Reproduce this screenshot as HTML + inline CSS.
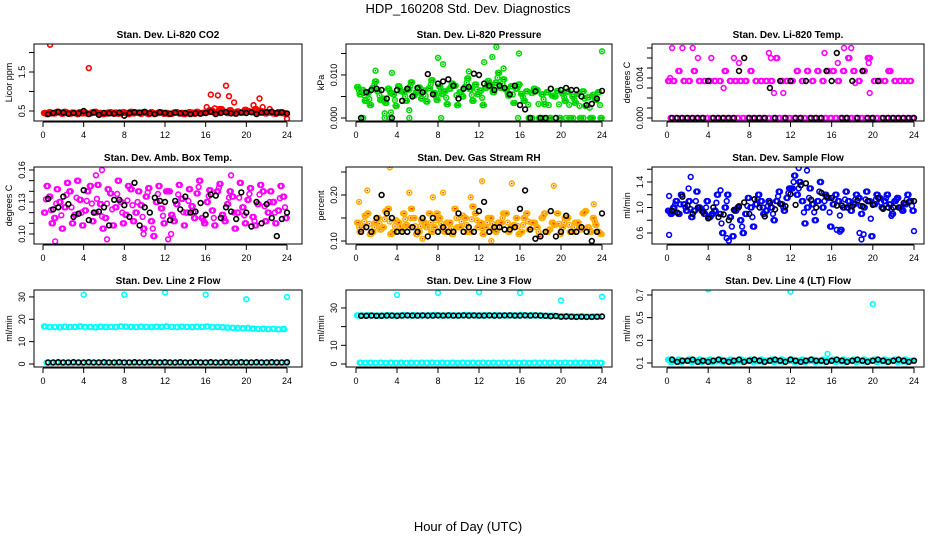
<!DOCTYPE html>
<html><head><meta charset="utf-8"><style>
html,body{margin:0;padding:0;background:#fff;}
svg{display:block;font-family:"Liberation Sans",sans-serif;}
</style></head><body>
<svg id="chart" width="936" height="540" viewBox="0 0 936 540" xmlns="http://www.w3.org/2000/svg">
<text x="468" y="13" text-anchor="middle" font-size="13">HDP_160208  Std. Dev. Diagnostics</text>
<text x="468" y="531" text-anchor="middle" font-size="13">Hour of Day (UTC)</text>
</svg>
<script>
// x tick labels
const xTicks = [0,4,8,12,16,20,24];

// Panel 1: CO2 (ppm)
const co2RedA = [0.45,0.47,0.44,0.46,0.48,0.43,0.45,0.47,0.46,0.44,0.48,0.45,0.43,0.47,0.46,0.44,0.45,0.48,0.46,0.43,0.45,0.47,0.44,0.46,0.45,0.43,0.47,0.45,0.44,0.46,0.48,0.45,0.47,0.50,0.46,0.48,0.45,0.47,0.49,0.46,0.50,0.47,0.45,0.48,0.46,0.44,0.47,0.45];
const co2RedB = [0.42,0.44,0.48,0.43,0.45,0.46,0.42,0.44,0.43,0.47,0.44,0.42,0.46,0.44,0.43,0.47,0.42,0.44,0.45,0.47,0.42,0.44,0.46,0.43,0.42,0.46,0.44,0.42,0.47,0.43,0.44,0.46,0.52,0.45,0.55,0.48,0.52,0.44,0.46,0.53,0.48,0.55,0.50,0.44,0.47,0.43,0.45,0.42];
const co2OutX = [0.7,4.5,16.1,16.5,16.9,17.2,17.6,18,18.3,18.8,20.7,21.3,21.6,22.3,24];
const co2OutY = [2.2,1.6,0.6,0.92,0.57,0.9,0.55,1.15,0.88,0.72,0.65,0.82,0.6,0.55,0.3];
const co2Black = [0.42,0.45,0.48,0.46,0.43,0.45,0.44,0.5,0.42,0.46,0.4,0.45,0.44,0.43,0.46,0.38,0.45,0.47,0.46,0.48,0.44,0.42,0.47,0.45,0.43,0.46,0.44,0.45,0.42,0.44,0.43,0.45,0.48,0.42,0.45,0.47,0.44,0.43,0.46,0.45,0.47,0.42,0.46,0.47,0.48,0.45,0.47,0.44];
const co2Ticks = [0.5,1.0,1.5,2.0];
const co2Labels = ["0.5","","1.5",""];

// Panel 2: pressure (units of 0.001 kPa)
const presA = [7.2,6.5,5.8,7.0,6.2,4.5,6.8,5.5,7.4,6.0,6.6,5.2,7.1,6.4,6.9,5.8,7.3,6.2,6.8,7.5,6.0,7.2,6.7,7.8,6.4,7.0,7.6,8.2,7.0,6.6,7.4,6.8,5.6,6.2,5.8,6.5,5.5,6.0,5.2,6.3,5.7,6.1,5.0,5.6,6.2,4.8,5.4,6.0];
const presB = [5.5,4.0,3.0,8.5,4.2,3.5,5.8,2.8,6.2,4.0,8.3,6.0,4.5,3.8,8.8,4.2,5.6,3.2,8.0,3.0,5.0,9.2,4.0,5.5,3.0,8.6,6.0,10.5,9.0,5.2,3.5,7.8,4.0,0,6.8,0,3.2,0,5.0,0,4.0,0,3.5,0,2.8,0,4.2,0];
const presOutX = [1.9,3.5,8,8.5,13.7,13.3,14.4,15.9,24,3.4,2.8,5.2,12.5,11,0.5,0.7,2.8,3.3,5.2,8.3,15.8,17.2,18.2,19,20.5,21.2,22.2,23.1];
const presOutY = [11,10.5,14,12.5,16.5,14.2,11.5,15,15.5,1.3,1.1,1.8,13,10.8,0,0,0,0,0,0,0,0,0,0,0,0,0,0];
const presBlack = [0,6,6.5,6.8,6.5,4.5,0,6.5,4,6.8,5,7,6,10.2,5.5,8,8.5,9,7.5,4.5,6.8,7.2,10.3,10,8,7.5,6.5,7.5,7,5.5,7.5,3,2,0,6.2,0,0,6.8,0,6.5,7,6.5,6.5,5,3,3.3,4.5,6.3];
const presTicks = [0,5,10,15];
const presLabels = ["0.000","","0.010",""];

// Panel 3: Li-820 temp (units of 0.001 C)
const tempA = [3.7,3.7,4.7,3.7,3.7,4.7,3.7,3.7,3.7,3.7,3.7,4.7,3.7,3.7,3.7,3.7,4.7,3.7,3.7,3.7,3.7,6,3.7,3.7,3.7,4.7,3.7,4.7,3.7,4.7,3.7,4.7,4.7,3.7,4.7,6,4.7,3.7,4.7,6,3.7,3.7,3.7,4.7,3.7,3.7,3.7,3.7];
const tempB = [0,0,0,0,0,0,0,0,0,0,0,0,0,0,0,0,0,0,0,0,0,0,0,0,0,0,0,0,0,0,0,0,0,0,0,0,0,0,0,0,0,0,0,0,0,0,0,0];
const tempOutX = [0.5,1.5,2.5,0.3,3.0,4.3,6.5,7,9.9,10.1,10.4,11.3,5.5,17.2,17.9,19.5,19.6,16.6,15.3,19.7,21.5,18.3];
const tempOutY = [7,7,7,4,6,6,6,5.5,6.5,6,2.5,2.5,3,7,7,6,5.5,5.5,6.5,2.5,4.7,3.5];
const tempBlack = [0,0,0,0,0,0,0,3.7,0,0,0,0,0,4.7,6,0,0,0,0,3,0,3.7,0,3.7,0,0,3.7,0,0,0,4.7,3.7,6.5,0,0,3.7,0,4.7,0,0,3.7,0,0,0,0,0,0,0];
const tempTicks = [0,1,2,3,4,5,6,7];
const tempLabels = ["0.000","","","","0.004","","",""];

// Panel 4: amb box temp
const boxA = [0.12,0.135,0.115,0.13,0.125,0.14,0.118,0.132,0.122,0.145,0.12,0.128,0.115,0.138,0.125,0.13,0.118,0.142,0.12,0.127,0.135,0.112,0.13,0.124,0.14,0.118,0.128,0.133,0.12,0.126,0.138,0.115,0.13,0.122,0.14,0.118,0.128,0.135,0.12,0.125,0.132,0.116,0.128,0.14,0.12,0.13,0.122,0.135];
const boxB = [0.145,0.11,0.142,0.105,0.148,0.11,0.15,0.108,0.14,0.112,0.146,0.105,0.142,0.108,0.15,0.11,0.145,0.112,0.14,0.105,0.143,0.098,0.145,0.11,0.14,0.112,0.146,0.108,0.142,0.115,0.15,0.11,0.141,0.108,0.147,0.112,0.14,0.105,0.148,0.11,0.143,0.108,0.146,0.112,0.14,0.11,0.145,0.115];
const boxOutX = [1.2,5.8,6.3,12.3,12.6,18.5,5.2,9.9];
const boxOutY = [0.093,0.16,0.095,0.095,0.1,0.155,0.155,0.1];
const boxBlack = [0.133,0.123,0.125,0.135,0.128,0.116,0.119,0.141,0.113,0.12,0.121,0.125,0.108,0.132,0.132,0.127,0.116,0.148,0.108,0.125,0.12,0.134,0.131,0.13,0.113,0.131,0.123,0.135,0.12,0.121,0.129,0.118,0.137,0.136,0.115,0.125,0.121,0.114,0.139,0.12,0.107,0.13,0.11,0.128,0.115,0.098,0.114,0.12];
const boxTicks = [0.10,0.11,0.12,0.13,0.14,0.15,0.16];
const boxLabels = ["0.10","","","0.13","","","0.16"];

// Panel 5: gas stream RH
const rhA = [0.14,0.13,0.16,0.12,0.15,0.13,0.17,0.12,0.14,0.16,0.13,0.15,0.12,0.14,0.16,0.13,0.15,0.12,0.14,0.17,0.13,0.15,0.12,0.16,0.14,0.13,0.15,0.12,0.14,0.16,0.13,0.15,0.12,0.16,0.14,0.13,0.15,0.12,0.14,0.16,0.13,0.15,0.12,0.14,0.16,0.13,0.15,0.12];
const rhB = [0.12,0.155,0.115,0.14,0.125,0.165,0.115,0.145,0.125,0.135,0.17,0.115,0.145,0.13,0.12,0.16,0.125,0.14,0.115,0.13,0.155,0.12,0.175,0.13,0.115,0.15,0.125,0.14,0.16,0.12,0.135,0.115,0.15,0.125,0.14,0.11,0.16,0.125,0.135,0.115,0.15,0.12,0.14,0.125,0.165,0.12,0.135,0.115];
const rhOutX = [0.3,1.1,3.3,5.2,7.5,8.5,12.3,15.2,19.3,11.2,6.5,13.2,23.2];
const rhOutY = [0.185,0.21,0.26,0.205,0.195,0.205,0.23,0.225,0.22,0.195,0.105,0.1,0.18];
const rhBlack = [0.12,0.13,0.12,0.15,0.2,0.16,0.15,0.12,0.12,0.12,0.13,0.12,0.15,0.11,0.15,0.12,0.13,0.12,0.12,0.16,0.12,0.13,0.12,0.165,0.185,0.12,0.13,0.13,0.125,0.125,0.13,0.17,0.21,0.125,0.105,0.11,0.12,0.165,0.11,0.12,0.155,0.12,0.12,0.13,0.12,0.1,0.12,0.16];
const rhTicks = [0.10,0.15,0.20,0.25];
const rhLabels = ["0.10","","0.20",""];

// Panel 6: sample flow
const sfA = [0.95,1.0,0.9,1.05,1.1,0.95,1.0,0.9,0.85,0.95,0.9,1.0,0.85,0.95,0.8,0.9,1.0,1.05,1.1,0.95,1.0,1.1,1.05,1.15,1.3,1.2,1.1,1.0,1.05,1.1,1.0,1.15,1.05,1.1,1.0,1.1,1.05,1.15,1.0,1.1,1.05,1.15,1.1,1.05,1.1,1.0,1.05,1.1];
const sfB = [0.9,1.1,1.2,0.95,0.85,1.25,0.95,1.1,0.9,1.2,0.6,1.2,0.55,1.0,0.6,1.15,0.7,1.2,0.9,1.1,0.8,1.25,0.95,1.3,1.5,1.4,0.75,1.3,0.8,1.4,1.2,0.7,1.2,0.65,1.25,0.95,1.2,0.9,1.25,0.55,1.2,1.0,1.2,0.9,1.15,0.95,1.2,0.95];
const sfOutX = [0.2,0.2,2.3,5.2,5.8,6,12.8,13.6,16.5,16.8,18.7,18.9,19.1,24,21.8,2.1];
const sfOutY = [1.18,0.57,1.48,1.27,0.52,0.48,1.62,1.58,0.65,0.62,0.6,0.5,0.58,0.63,0.87,1.3];
const sfBlack = [0.95,0.92,1.17,1.03,0.9,1.0,0.93,0.83,1.0,0.85,0.89,0.8,0.96,1.02,1.08,0.9,1.13,1.0,0.86,1.07,0.97,1.06,1.02,1.21,1.04,1.35,1.38,1.12,1.0,1.23,1.17,1.15,1.03,1.03,1.0,1.02,1.11,1.02,1.1,1.04,1.15,0.98,1.0,1.0,1.0,1.07,1.09,1.1];
const sfTicks = [0.6,0.8,1.0,1.2,1.4,1.6];
const sfLabels = ["0.6","","1.0","","1.4",""];

// Panel 7: line 2 flow
const l2A = [16.8,16.5,16.6,16.4,16.7,16.5,16.6,16.8,16.5,16.6,16.4,16.7,16.5,16.6,16.5,16.8,16.7,16.6,16.5,16.7,16.6,16.5,16.7,16.6,16.8,16.6,16.5,16.7,16.6,16.5,16.7,16.6,16.8,16.5,16.6,16.4,16.3,16.2,16.1,16.0,16.1,15.8,15.7,15.8,15.6,15.7,15.5,15.6];
const l2B = [0.6,0.5,0.6,0.5,0.6,0.5,0.6,0.5,0.6,0.5,0.6,0.5,0.6,0.5,0.6,0.5,0.6,0.5,0.6,0.5,0.6,0.5,0.6,0.5,0.6,0.5,0.6,0.5,0.6,0.5,0.6,0.5,0.6,0.5,0.6,0.5,0.6,0.5,0.6,0.5,0.6,0.5,0.6,0.5,0.6,0.5,0.6,0.5];
const l2OutX = [4,8,12,16,20,24];
const l2OutY = [31,31,32,31,29,30];
const l2Black = [0.7,0.7,0.8,0.7,0.7,0.8,0.7,0.7,0.8,0.7,0.7,0.8,0.7,0.7,0.8,0.7,0.7,0.8,0.7,0.7,0.8,0.7,0.7,0.8,0.7,0.7,0.8,0.7,0.7,0.8,0.7,0.7,0.8,0.7,0.7,0.8,0.7,0.7,0.8,0.7,0.7,0.8,0.7,0.7,0.8,0.7,0.7,0.8];
const l2Ticks = [0,10,20,30];
const l2Labels = ["0","10","20","30"];

// Panel 8: line 3 flow
const l3A = [26,26,26.1,26,25.9,26,26.1,26,26,26.2,26,26.1,26,26,26.1,26.2,26,26,26.1,26,26,26.2,26.1,26,26,26.1,26,26.2,26,26,26.1,26,26.2,26,26.1,26,25.9,25.8,25.9,25.6,25.5,25.6,25.4,25.5,25.4,25.3,25.4,25.3];
const l3B = [0.7,0.6,0.7,0.6,0.7,0.6,0.7,0.6,0.7,0.6,0.7,0.6,0.7,0.6,0.7,0.6,0.7,0.6,0.7,0.6,0.7,0.6,0.7,0.6,0.7,0.6,0.7,0.6,0.7,0.6,0.7,0.6,0.7,0.6,0.7,0.6,0.7,0.6,0.7,0.6,0.7,0.6,0.7,0.6,0.7,0.6,0.7,0.6];
const l3OutX = [4,8,12,16,20,24];
const l3OutY = [37,38,38.5,38,34,36];
const l3Black = [25.8,25.8,25.9,25.8,25.8,25.9,25.9,25.8,25.9,26,25.9,25.9,26,25.9,25.9,26,25.9,26,25.9,25.9,26,25.9,26,25.9,25.9,26,25.9,25.9,26,26,25.9,25.9,26,25.9,26,25.9,25.8,25.6,25.7,25.3,25.4,25.3,25.2,25.3,25.2,25.2,25.3,25.4];
const l3Ticks = [0,10,20,30];
const l3Labels = ["0","10","","30"];

// Panel 9: line 4 (LT) flow
const l4A = [0.13,0.12,0.13,0.12,0.13,0.12,0.13,0.12,0.13,0.12,0.13,0.12,0.13,0.12,0.13,0.12,0.13,0.12,0.13,0.12,0.13,0.12,0.13,0.12,0.13,0.12,0.13,0.12,0.13,0.12,0.13,0.12,0.13,0.12,0.13,0.12,0.13,0.12,0.13,0.12,0.13,0.12,0.13,0.12,0.13,0.12,0.13,0.12];
const l4B = [0.11,0.115,0.11,0.12,0.11,0.115,0.11,0.12,0.11,0.115,0.11,0.12,0.11,0.115,0.11,0.12,0.11,0.115,0.11,0.12,0.11,0.115,0.11,0.12,0.11,0.115,0.11,0.12,0.11,0.115,0.11,0.12,0.11,0.115,0.11,0.12,0.11,0.115,0.11,0.12,0.11,0.115,0.11,0.12,0.11,0.115,0.11,0.12];
const l4OutX = [4,12,20,15.6];
const l4OutY = [0.75,0.73,0.62,0.18];
const l4Black = [0.13,0.11,0.12,0.12,0.13,0.11,0.12,0.11,0.12,0.13,0.12,0.11,0.12,0.13,0.11,0.12,0.13,0.12,0.11,0.12,0.13,0.12,0.11,0.13,0.12,0.11,0.12,0.13,0.12,0.12,0.11,0.12,0.13,0.12,0.11,0.12,0.13,0.12,0.11,0.12,0.13,0.12,0.11,0.12,0.13,0.12,0.11,0.12];
const l4Ticks = [0.1,0.3,0.5,0.7];
const l4Labels = ["0.1","0.3","0.5","0.7"];

const NS = "http://www.w3.org/2000/svg";
const svg = document.getElementById('chart');
function mk(tag, attrs, parent){
  const e = document.createElementNS(NS, tag);
  for (const k in attrs) e.setAttribute(k, attrs[k]);
  (parent||svg).appendChild(e);
  return e;
}
const cols = [
  {L:34,R:302,x0:43,x24:287},
  {L:346,R:612,x0:356,x24:602},
  {L:652,R:924,x0:667,x24:914}
];
const rows = [{T:44,B:121},{T:167,B:244},{T:290,B:367}];

const panels = [
 {name:"co2",title:"Stan. Dev. Li-820 CO2",ylab:"Licor ppm",r:0,c:0,dom:[0.244,2.218],ticks:co2Ticks,labels:co2Labels,A:co2RedA,B:co2RedB,ox:co2OutX,oy:co2OutY,blk:co2Black,col:"#ff0000",inner:null,mid:true},
 {name:"pressure",title:"Stan. Dev. Li-820 Pressure",ylab:"kPa",r:0,c:1,dom:[-0.7,17.2],ticks:presTicks,labels:presLabels,A:presA,B:presB,ox:presOutX,oy:presOutY,blk:presBlack,col:"#00dd00",inner:"#008800",mid:true},
 {name:"li820-temp",title:"Stan. Dev. Li-820 Temp.",ylab:"degrees C",r:0,c:2,dom:[-0.3,7.4],ticks:tempTicks,labels:tempLabels,A:tempA,B:tempB,ox:tempOutX,oy:tempOutY,blk:tempBlack,col:"#ff00ff",inner:null,mid:false},
 {name:"box-temp",title:"Stan. Dev. Amb. Box Temp.",ylab:"degrees C",r:1,c:0,dom:[0.0906,0.1628],ticks:boxTicks,labels:boxLabels,A:boxA,B:boxB,ox:boxOutX,oy:boxOutY,blk:boxBlack,col:"#ff00ff",inner:null,mid:true},
 {name:"gas-rh",title:"Stan. Dev. Gas Stream RH",ylab:"percent",r:1,c:1,dom:[0.0935,0.2609],ticks:rhTicks,labels:rhLabels,A:rhA,B:rhB,ox:rhOutX,oy:rhOutY,blk:rhBlack,col:"#ffb000",inner:"#ff2000",mid:true},
 {name:"sample-flow",title:"Stan. Dev. Sample Flow",ylab:"ml/min",r:1,c:2,dom:[0.4275,1.635],ticks:sfTicks,labels:sfLabels,A:sfA,B:sfB,ox:sfOutX,oy:sfOutY,blk:sfBlack,col:"#0000ff",inner:null,mid:true},
 {name:"line2-flow",title:"Stan. Dev. Line 2 Flow",ylab:"ml/min",r:2,c:0,dom:[-1.34,33.1],ticks:l2Ticks,labels:l2Labels,A:l2A,B:l2B,ox:l2OutX,oy:l2OutY,blk:l2Black,col:"#00ffff",inner:null,mid:false},
 {name:"line3-flow",title:"Stan. Dev. Line 3 Flow",ylab:"ml/min",r:2,c:1,dom:[-1.6,39.6],ticks:l3Ticks,labels:l3Labels,A:l3A,B:l3B,ox:l3OutX,oy:l3OutY,blk:l3Black,col:"#00ffff",inner:null,mid:false},
 {name:"line4-flow",title:"Stan. Dev. Line 4 (LT) Flow",ylab:"ml/min",r:2,c:2,dom:[0.0647,0.744],ticks:l4Ticks,labels:l4Labels,A:l4A,B:l4B,ox:l4OutX,oy:l4OutY,blk:l4Black,col:"#00ffff",inner:null,mid:true}
];

function point(g, x, y, color, inner, name){
  const c = mk('circle',{cx:x.toFixed(1),cy:y.toFixed(1),r:2.4,fill:'none',stroke:color,'stroke-width':1.6},g);
  
  
  if (inner){
    const d = mk('rect',{x:(x-0.7).toFixed(1),y:(y-0.7).toFixed(1),width:1.4,height:1.4,fill:inner},g);
    
    
  }
}

panels.forEach(p=>{
  const C = cols[p.c], R = rows[p.r];
  const xs = h => C.x0 + (C.x24 - C.x0) * h / 24;
  const ys = v => R.B - (R.B - R.T) * (v - p.dom[0]) / (p.dom[1] - p.dom[0]);
  const g = mk('g',{});
  
  
  const t = mk('text',{x:(C.L+C.R)/2,y:R.T-6,'text-anchor':'middle','font-size':10,'font-weight':'bold'},g);
  t.textContent = p.title;
  
  
  p.ticks.forEach((v,i)=>{
    const y = ys(v);
    const tk = mk('line',{x1:C.L-5,x2:C.L,y1:y,y2:y,stroke:'#000','stroke-width':1},g);
    
    
    if (p.labels[i]){
      const lt = mk('text',{x:C.L-9,y:y,'text-anchor':'middle','font-size':9,transform:`rotate(-90 ${C.L-9} ${y})`},g);
      lt.textContent = p.labels[i];
      
      
    }
  });
  const yl = mk('text',{x:C.L-22,y:(R.T+R.B)/2,'text-anchor':'middle','font-size':9,transform:`rotate(-90 ${C.L-22} ${(R.T+R.B)/2})`},g);
  yl.textContent = p.ylab;
  
  
  const xa = mk('line',{x1:xs(0),x2:xs(24),y1:R.B+1,y2:R.B+1,stroke:'#000','stroke-width':1},g);
  
  
  xTicks.forEach(h=>{
    const x = xs(h);
    const tk = mk('line',{x1:x,x2:x,y1:R.B+1,y2:R.B+6,stroke:'#000','stroke-width':1},g);
    
    
    const lt = mk('text',{x:x,y:R.B+17,'text-anchor':'middle','font-size':9},g);
    lt.textContent = h;
    
    
  });
  const clip = mk('clipPath',{id:'clip-'+p.name},g);
  mk('rect',{x:C.L,y:R.T,width:C.R-C.L,height:R.B-R.T},clip);
  const pg = mk('g',{'clip-path':`url(#clip-${p.name})`},g);
  
  
  p.B.forEach((v,i)=>point(pg, xs(i*0.5+0.35), ys(v), p.col, p.inner, 'point-secondary'));
  p.B.forEach((v,i)=>point(pg, xs(i*0.5+0.47), ys(v), p.col, p.inner, 'point-secondary'));
  p.A.forEach((v,i)=>point(pg, xs(i*0.5+0.1), ys(v), p.col, p.inner, 'point-primary'));
  p.A.forEach((v,i)=>point(pg, xs(i*0.5+0.22), ys(v), p.col, p.inner, 'point-primary'));
  if (p.mid) p.A.forEach((v,i)=>point(pg, xs(i*0.5+0.3), ys((v+p.B[i])/2), p.col, p.inner, 'point-primary'));
  p.ox.forEach((h,i)=>point(pg, xs(h), ys(p.oy[i]), p.col, p.inner, 'point-outlier'));
  p.blk.forEach((v,i)=>point(pg, xs(i*0.5+0.5), ys(v), '#000', null, 'point-hourly-mean'));
  const bx = mk('rect',{x:C.L,y:R.T,width:C.R-C.L,height:R.B-R.T,fill:'none',stroke:'#000','stroke-width':1},g);
  
  
});
</script>
</body></html>
